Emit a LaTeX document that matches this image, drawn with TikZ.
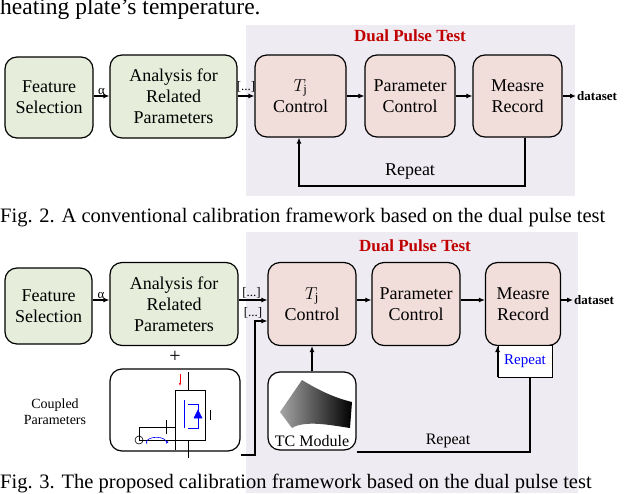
\documentclass[tikz,border=0pt]{standalone}
\usepackage{fontspec}
\setmainfont{Liberation Serif}
\usetikzlibrary{arrows.meta}
\definecolor{bgc}{HTML}{EEECF2}
\definecolor{grn}{HTML}{E6EEDB}
\definecolor{pnk}{HTML}{F1DEDB}
\definecolor{dred}{HTML}{C00000}
\begin{document}
\begin{tikzpicture}[x=1pt,y=-1pt,
 box/.style={draw,line width=1.2pt,rounded corners=12pt,align=center,font=\fontsize{18}{21}\selectfont,inner sep=0pt},
 g/.style={box,fill=grn}, p/.style={box,fill=pnk},
 ar/.style={-{Latex[length=6pt,width=5pt]},line width=1.1pt},
 ln/.style={line width=1.1pt},
 lab/.style={font=\fontsize{13}{14}\selectfont,inner sep=1pt},
 txt/.style={font=\fontsize{20.5}{22}\selectfont,inner sep=0pt}]
\useasboundingbox (0,0) rectangle (640,493);
% ---------- Fig 2 ----------
\node[font=\fontsize{23.5}{25}\selectfont,inner sep=0pt,anchor=base west] (top) at (0,14) {heating plate's temperature.};
\fill[bgc] (246,25) rectangle (575,196);
\node[font=\bfseries\fontsize{17}{19}\selectfont,text=dred] (dpt1) at (410,36) {Dual Pulse Test};
\node[g,minimum width=88pt,minimum height=81pt] (f1) at (49,97.5) {Feature\\Selection};
\node[g,minimum width=127pt,minimum height=83pt] (a1) at (173.5,96.5) {Analysis for\\Related\\Parameters};
\node[p,minimum width=91pt,minimum height=82pt] (t1) at (300.5,96) {$T_{\mathrm{j}}$\\Control};
\node[p,minimum width=90pt,minimum height=82pt] (pc1) at (410,96) {Parameter\\Control};
\node[p,minimum width=89pt,minimum height=82pt] (m1) at (517.5,96) {Measre\\Record};
\node[font=\bfseries\fontsize{13}{14}\selectfont,anchor=west,inner sep=1pt] (d1) at (576,96) {dataset};
\draw[ar] (f1.east |- 0,96) -- node[lab,above]{α} (a1.west |- 0,96);
\draw[ar] (a1.east |- 0,96) -- node[lab,above,yshift=2pt]{[...]} (t1.west |- 0,96);
\draw[ar] (t1.east |- 0,96) -- (pc1.west |- 0,96);
\draw[ar] (pc1.east |- 0,96) -- (m1.west |- 0,96);
\draw[ar] (m1.east |- d1) -- (d1.west);
\draw[ar] (m1.south -| 525,0) |- (299,186) -- (t1.south -| 299,0);
\node[font=\fontsize{18}{20}\selectfont] (r1) at (410,172) {Repeat};
\node[txt,anchor=base west] (c1) at (0,222) {Fig. 2. A conventional calibration framework based on the dual pulse test};
% ---------- Fig 3 ----------
\fill[bgc] (246,232) rectangle (578,493);
\node[font=\bfseries\fontsize{17}{19}\selectfont,text=dred] (dpt2) at (415,246) {Dual Pulse Test};
\node[g,minimum width=87pt,minimum height=76pt] (f2) at (48.5,306) {Feature\\Selection};
\node[g,minimum width=128pt,minimum height=83pt] (a2) at (174,304) {Analysis for\\Related\\Parameters};
\node[p,minimum width=88pt,minimum height=83pt] (t2) at (312,304) {$T_{\mathrm{j}}$\\Control};
\node[p,minimum width=88pt,minimum height=83pt] (pc2) at (416,304) {Parameter\\Control};
\node[p,minimum width=75pt,minimum height=83pt] (m2) at (523,304) {Measre\\Record};
\node[font=\bfseries\fontsize{13}{14}\selectfont,anchor=west,inner sep=1pt] (d2) at (573,300) {dataset};
\draw[ar] (f2.east |- 0,300) -- node[lab,above]{α} (a2.west |- 0,300);
\draw[ar] (a2.east |- 0,300) -- node[lab,above,pos=0.45]{[...]} (t2.west |- 0,300);
\draw[ar] (t2.east |- 0,300) -- (pc2.west |- 0,300);
\draw[ar] (pc2.east |- 0,300) -- (m2.west |- 0,300);
\draw[ar] (m2.east |- d2) -- (d2.west);
\node[font=\fontsize{20}{20}\selectfont] (plus) at (175,357) {+};
\node[box,fill=white,minimum width=130pt,minimum height=82pt] (cb) at (175,410) {};
\node[align=center,font=\fontsize{14}{16}\selectfont] (cp) at (55,412) {Coupled\\Parameters};
\node[lab] (dots2) at (253,313) {[...]};
\draw[ar] (cb.east |- 0,455) -| (255,321) -- (t2.west |- 0,321);
% circuit sketch
\begin{scope}[line width=0.6pt]
\draw (139,427) -- (175,427);
\draw (139,427) -- (139,440);
\draw (175,390) -- (175,450);
\draw (175,390) -- (205,390) -- (205,440) -- (139,440);
\draw[red,-{Latex[length=3pt]}] (180,374) -- (180,386);
\draw (188,372) -- (188,390);
\draw (188,440) -- (188,458);
\draw[blue] (184,400) -- (184,428) (188,404) -- (198,404) -- (198,428) -- (188,428);
\draw[blue,fill=blue] (198,410) -- (194,418) -- (202,418) -- cycle;
\draw (139,440) circle (4pt);
\draw[blue,-{Latex[length=3pt]}] (147,444) arc (200:-20:10pt and 5pt);
\draw (166,420) -- (166,434);
\draw (210,410) -- (210,420);
\end{scope}
% TC module
\node[box,fill=white,minimum width=88pt,minimum height=78pt] (tc) at (312,411) {};
\node[font=\fontsize{16}{18}\selectfont,fill=white,inner sep=1pt] (tct) at (312,441) {TC Module};
\shade[left color=gray!70,right color=black] (280,412) -- (302,380) .. controls (318,390) and (335,398) .. (352,402) -- (350,428) .. controls (330,425) and (305,420) .. (292,428) -- cycle;
\draw[ar] (tc) -- (t2);
\node[draw,line width=0.9pt,fill=white,minimum width=54pt,minimum height=32pt,text=blue,font=\fontsize{15}{17}\selectfont,inner sep=0pt] (rb) at (525,361) {Repeat};
\draw[ar] (rb.south west) -- (m2.south -| rb.west);
\draw[ln] (tc.east |- 0,452) -| (530,377);
\node[font=\fontsize{16}{18}\selectfont] (r2) at (448,441) {Repeat};
\node[txt,anchor=base west] (c2) at (0,488) {Fig. 3. The proposed calibration framework based on the dual pulse test};
\end{tikzpicture}
\end{document}
